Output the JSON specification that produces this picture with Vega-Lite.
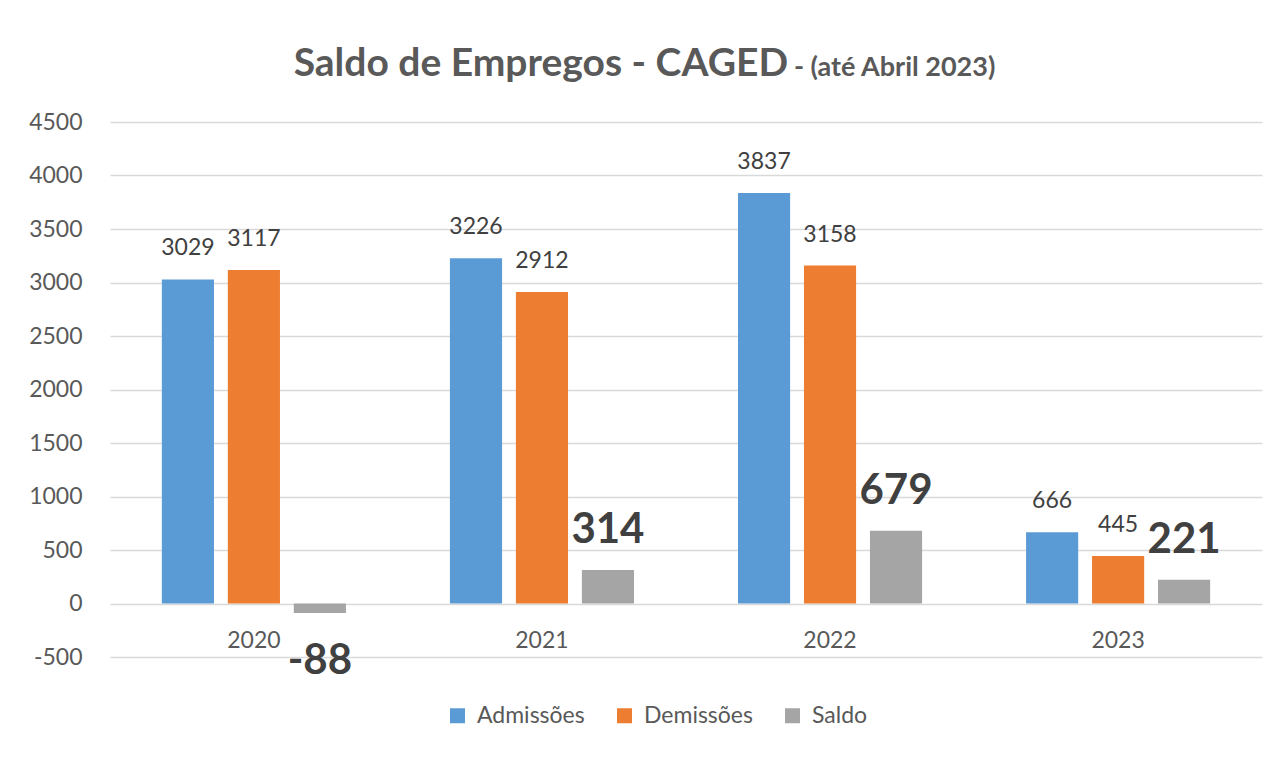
{
  "$schema": "https://vega.github.io/schema/vega-lite/v6.json",
  "width": 1152,
  "height": 535,
  "autosize": {"type": "none"},
  "padding": {"left": 110, "top": 122, "right": 20, "bottom": 100},
  "background": "white",
  "config": {"view": {"stroke": null}},
  "layer": [
    {
      "data": {
        "values": [
          {"ano": "2020", "serie": "Admissões", "valor": 3029},
          {"ano": "2020", "serie": "Demissões", "valor": 3117},
          {"ano": "2020", "serie": "Saldo", "valor": -88},
          {"ano": "2021", "serie": "Admissões", "valor": 3226},
          {"ano": "2021", "serie": "Demissões", "valor": 2912},
          {"ano": "2021", "serie": "Saldo", "valor": 314},
          {"ano": "2022", "serie": "Admissões", "valor": 3837},
          {"ano": "2022", "serie": "Demissões", "valor": 3158},
          {"ano": "2022", "serie": "Saldo", "valor": 679},
          {"ano": "2023", "serie": "Admissões", "valor": 666},
          {"ano": "2023", "serie": "Demissões", "valor": 445},
          {"ano": "2023", "serie": "Saldo", "valor": 221}
        ]
      },
      "encoding": {
        "x": {
          "field": "ano",
          "type": "nominal",
          "scale": {"paddingInner": 0.361, "paddingOuter": 0.18},
          "axis": {
            "title": null,
            "domain": false,
            "ticks": false,
            "grid": false,
            "offset": -53.5,
            "labelPadding": 44,
            "labelBaseline": "alphabetic",
            "labelFont": "Lato",
            "labelFontSize": 23,
            "labelColor": "#595959",
            "labelAngle": 0
          }
        },
        "xOffset": {
          "field": "serie",
          "type": "nominal",
          "sort": ["Admissões", "Demissões", "Saldo"],
          "scale": {"paddingInner": 0.21, "paddingOuter": 0}
        },
        "y": {
          "field": "valor",
          "type": "quantitative",
          "scale": {"domain": [-500, 4500], "nice": false},
          "axis": {
            "title": null,
            "values": [-500, 0, 500, 1000, 1500, 2000, 2500, 3000, 3500, 4000, 4500],
            "labelExpr": "'' + datum.value",
            "domain": false,
            "ticks": false,
            "labelPadding": 28,
            "gridColor": "#d9d9d9",
            "gridWidth": 1.3,
            "labelFont": "Lato",
            "labelFontSize": 23,
            "labelColor": "#595959"
          }
        }
      },
      "layer": [
        {
          "mark": {"type": "bar"},
          "encoding": {
            "color": {
              "field": "serie",
              "type": "nominal",
              "scale": {
                "domain": ["Admissões", "Demissões", "Saldo"],
                "range": ["#5B9BD5", "#ED7D31", "#A5A5A5"]
              },
              "legend": {
                "orient": "none",
                "legendX": 336,
                "legendY": 582,
                "direction": "horizontal",
                "title": null,
                "symbolType": "square",
                "symbolSize": 225,
                "symbolStrokeWidth": 0,
                "labelFont": "Lato",
                "labelFontSize": 23,
                "labelColor": "#595959",
                "labelOffset": 8,
                "columnPadding": 28
              }
            }
          }
        },
        {
          "transform": [{"filter": "datum.serie !== 'Saldo'"}],
          "mark": {"type": "text", "font": "Lato", "fontSize": 23, "color": "#404040", "baseline": "alphabetic", "dy": -24},
          "encoding": {"text": {"field": "valor", "type": "nominal"}}
        },
        {
          "transform": [{"filter": "datum.serie === 'Saldo' && datum.valor >= 0"}],
          "mark": {"type": "text", "font": "Lato", "fontSize": 42, "fontWeight": "bold", "color": "#404040", "baseline": "alphabetic", "dy": -27},
          "encoding": {"text": {"field": "valor", "type": "nominal"}}
        },
        {
          "transform": [{"filter": "datum.valor < 0"}],
          "mark": {"type": "text", "font": "Lato", "fontSize": 42, "fontWeight": "bold", "color": "#404040", "baseline": "alphabetic", "dy": 61},
          "encoding": {"text": {"field": "valor", "type": "nominal"}}
        }
      ]
    },
    {
      "data": {"values": [{"t": "Saldo de Empregos - CAGED"}]},
      "mark": {"type": "text", "font": "Lato", "fontSize": 39, "fontWeight": "bold", "color": "#595959", "align": "right", "baseline": "alphabetic"},
      "encoding": {
        "x": {"datum": "2022", "type": "nominal", "bandPosition": 0.272},
        "y": {"datum": 4930, "type": "quantitative", "scale": {"domain": [-500, 4500], "nice": false}},
        "text": {"field": "t", "type": "nominal"}
      }
    },
    {
      "data": {"values": [{"t": "- (até Abril 2023)"}]},
      "mark": {"type": "text", "font": "Lato", "fontSize": 27, "fontWeight": "bold", "color": "#595959", "align": "left", "baseline": "alphabetic"},
      "encoding": {
        "x": {"datum": "2022", "type": "nominal", "bandPosition": 0.304},
        "y": {"datum": 4930, "type": "quantitative", "scale": {"domain": [-500, 4500], "nice": false}},
        "text": {"field": "t", "type": "nominal"}
      }
    }
  ]
}
